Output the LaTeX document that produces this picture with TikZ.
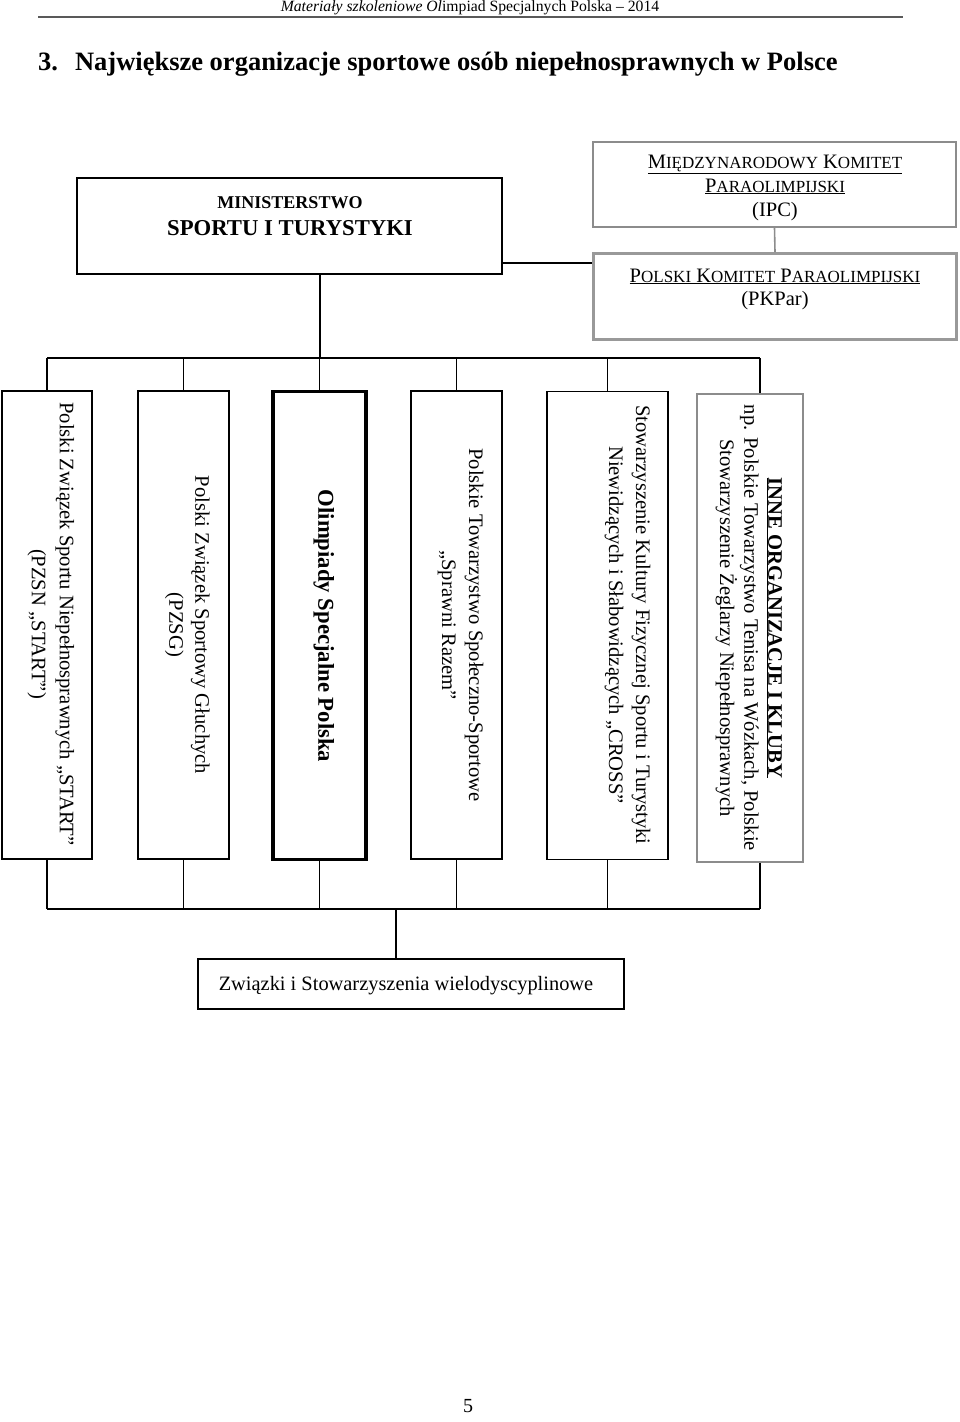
\documentclass[tikz,border=0pt]{standalone}
\usepackage{fontspec}
\setmainfont{Liberation Serif}
\usepackage{graphicx}
\usetikzlibrary{calc}
\newcommand{\myfs}[2]{\fontsize{#1pt}{#2pt}\selectfont}
\newcommand{\vtext}[1]{\rotatebox{-90}{\begin{tabular}{@{}c@{}}#1\end{tabular}}}
\begin{document}
\begin{tikzpicture}[x=1pt,y=-1pt,
  box/.style={draw, line width=1.5pt, inner sep=0pt, align=center},
  graybox/.style={draw=black!45, line width=1.5pt, inner sep=0pt},
  txt/.style={inner sep=0pt, align=center},
  conn/.style={line width=1.6pt},
  vbox/.style={box, minimum height=468pt}]
\useasboundingbox (0,0) rectangle (960,1422);
% header
\node[txt] (hdr) at (470,8) {\myfs{15.7}{18}\textit{Materiały szkoleniowe Ol}impiad Specjalnych Polska – 2014};
\coordinate (rl) at (38,17);
\coordinate (rr) at (903,17);
\draw[line width=1.8pt, black!65] (rl) -- (rr);
\node[txt, anchor=base west] (title) at (38,70) {\myfs{26.5}{30}\bfseries 3.\hspace{17pt}Największe organizacje sportowe osób niepełnosprawnych w Polsce};
% ministry
\node[box, minimum width=425pt, minimum height=96pt] (min) at (289.5,226) {};
\node[txt, anchor=base] (min1) at (290,208) {\myfs{18}{20}\bfseries MINISTERSTWO};
\node[txt, anchor=base] (min2) at (290,235) {\myfs{22.7}{26}\bfseries SPORTU I TURYSTYKI};
% IPC
\node[graybox, minimum width=363pt, minimum height=85pt] (ipc) at (774.5,184.5) {};
\node[txt, anchor=base] (ipc1) at (775,168) {\myfs{20.5}{22}\underline{M{\myfs{17}{18}IĘDZYNARODOWY} K{\myfs{17}{18}OMITET}}};
\node[txt, anchor=base] (ipc2) at (775,192) {\myfs{20.5}{22}\underline{P{\myfs{17}{18}ARAOLIMPIJSKI}}};
\node[txt, anchor=base] (ipc3) at (775,216) {\myfs{20.5}{22}(IPC)};
% PKPar
\node[draw=black!40, line width=2.8pt, inner sep=0pt, minimum width=363pt, minimum height=86pt] (pk) at (775,296.5) {};
\node[txt, anchor=base] (pk1) at (775,282) {\myfs{20.5}{22}\underline{P{\myfs{17}{18}OLSKI} K{\myfs{17}{18}OMITET} P{\myfs{17}{18}ARAOLIMPIJSKI}}};
\node[txt, anchor=base] (pk2) at (775,305) {\myfs{20.5}{22}(PKPar)};
% vertical boxes
\node[vbox, minimum width=90pt] (b1) at (47,625) {};
\node[vbox, minimum width=91pt] (b2) at (183.5,625) {};
\node[box, line width=3.2pt, minimum width=93pt, minimum height=468pt] (b3) at (319.5,625.5) {};
\node[vbox, minimum width=91pt] (b4) at (456.5,625) {};
\node[vbox, minimum width=121pt] (b5) at (607.5,625.5) {};
\node[graybox, minimum width=106pt, minimum height=468pt] (b6) at (750,628) {};
\node[txt] (b1t) at (51.5,624) {\myfs{20.6}{28}\vtext{Polski Związek Sportu Niepełnosprawnych „START”\\(PZSN „START”)}};
\node[txt] (b2t) at (187.5,625) {\myfs{20.6}{26}\vtext{Polski Związek Sportowy Głuchych\\(PZSG)}};
\node[txt] (b3t) at (323.5,626) {\myfs{22.7}{26}\vtext{\bfseries Olimpiady Specjalne Polska}};
\node[txt] (b4t) at (461,625) {\myfs{20.6}{27}\vtext{Polskie Towarzystwo Społeczno-Sportowe\\„Sprawni Razem”}};
\node[txt] (b5t) at (628,625) {\myfs{20.6}{27}\vtext{Stowarzyszenie Kultury Fizycznej Sportu i Turystyki\\Niewidzących i Słabowidzących „CROSS”}};
\node[txt] (b6t) at (749,628) {\myfs{20.6}{24}\vtext{\bfseries\underline{INNE ORGANIZACJE I KLUBY}\\np. Polskie Towarzystwo Tenisa na Wózkach, Polskie\\Stowarzyszenie Żeglarzy Niepełnosprawnych}};
% bottom box
\node[box, minimum width=426pt, minimum height=50pt] (bot) at (411,984) {};
\node[txt, anchor=base] (bott) at (406,990) {\myfs{20.4}{24}Związki i Stowarzyszenia wielodyscyplinowe};
% page number
\node[txt] (pg) at (468,1406) {\myfs{20}{22}5};
% connectors
\coordinate (busT) at (0,358);
\coordinate (busB) at (0,909);
\coordinate (lk) at (0,263);
\coordinate (md) at ($(min.south west)!0.572!(min.south east)$);
\coordinate (b6n) at ($(b6.north west)!0.594!(b6.north east)$);
\coordinate (b6s) at ($(b6.south west)!0.594!(b6.south east)$);
\coordinate (bd) at ($(bot.north west)!0.465!(bot.north east)$);
\draw[conn] (min.east |- lk) -- (pk.west |- lk);
\draw[line width=1.6pt, black!45] (ipc.south) -- (pk.north);
\draw[conn] (md) -- (md |- busT);
\draw[conn] (b1.north |- busT) -- (b6n |- busT);
\foreach \b in {b1,b2,b3,b4,b5} {
  \draw[conn] (\b.north) -- (\b.north |- busT);
  \draw[conn] (\b.south) -- (\b.south |- busB);
}
\draw[conn] (b6n) -- (b6n |- busT);
\draw[conn] (b6s) -- (b6s |- busB);
\draw[conn] (b1.south |- busB) -- (b6s |- busB);
\draw[conn] (bd |- busB) -- (bd);
\end{tikzpicture}
\end{document}
